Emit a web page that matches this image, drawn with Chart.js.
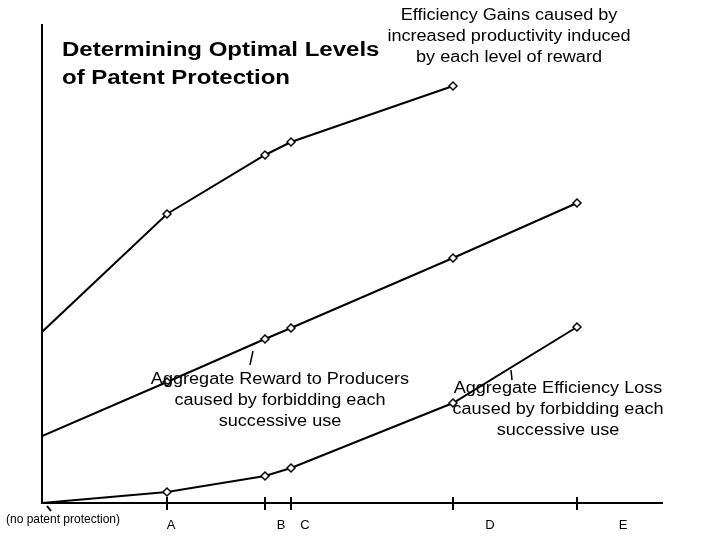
<!DOCTYPE html>
<html>
<head>
<meta charset="utf-8">
<script src="https://cdn.jsdelivr.net/npm/chart.js@4"></script>
<style>
  html, body { margin: 0; padding: 0; background: #fff; }
  #wrap { width: 720px; height: 540px; }
</style>
</head>
<body>
<div id="wrap"><canvas id="c" width="720" height="540"></canvas></div>
<script>
// levels of reward along the x axis (0 = no patent protection)
const levels = [0, 125, 223, 249, 411, 535];
const levelNames = ['', 'A', 'B', 'C', 'D', 'E'];
// where each letter sits (letters are set a bit right of their ticks)
const levelLabelX = [null, 129, 239, 263, 448, 581];

const gains = [171, 289, 348, 361, 417];          // Efficiency Gains
const reward = [67, 121, 164, 175, 245, 300];     // Aggregate Reward to Producers
const loss = [0, 11, 27, 35, 100, 176];           // Aggregate Efficiency Loss

const xMax = 621, yMax = 479;

const toPts = vals => vals.map((v, i) => ({ x: levels[i], y: v }));
const FONT = '"Liberation Sans", Arial, sans-serif';

function lineSet(label, vals) {
  return {
    label: label,
    data: toPts(vals),
    borderColor: '#000',
    borderWidth: 2,
    pointStyle: 'rectRot',
    pointRadius: vals.map((v, i) => i === 0 ? 0 : 4),
    pointBackgroundColor: '#fff',
    pointBorderColor: '#000',
    pointBorderWidth: 1.5,
    tension: 0,
    fill: false
  };
}

// the original lettering is a little wider than Arial at the same height
function wideText(ctx, t, x, y, sx) {
  ctx.save();
  ctx.translate(x, y);
  ctx.scale(sx, 1);
  ctx.fillText(t, 0, 0);
  ctx.restore();
}

const decor = {
  id: 'decor',
  afterDraw(chart) {
    const ctx = chart.ctx;
    const xs = chart.scales.x, ys = chart.scales.y;
    const x0 = xs.getPixelForValue(0), y0 = ys.getPixelForValue(0);
    ctx.save();
    ctx.strokeStyle = '#000';
    ctx.fillStyle = '#000';
    ctx.lineWidth = 2;

    // axes
    ctx.beginPath();
    ctx.moveTo(x0, ys.getPixelForValue(yMax));
    ctx.lineTo(x0, y0);
    ctx.lineTo(xs.getPixelForValue(xMax), y0);
    ctx.stroke();

    // ticks on x axis
    levels.forEach((v, i) => {
      if (i === 0) return;
      const px = xs.getPixelForValue(v);
      ctx.beginPath();
      ctx.moveTo(px, y0 - 6);
      ctx.lineTo(px, y0 + 7);
      ctx.stroke();
    });
    // little mark at origin
    ctx.beginPath();
    ctx.moveTo(x0 + 5, y0 + 3);
    ctx.lineTo(x0 + 9, y0 + 8);
    ctx.stroke();

    // tick letters
    ctx.font = '13px ' + FONT;
    ctx.textAlign = 'center';
    ctx.textBaseline = 'middle';
    levelNames.forEach((n, i) => {
      if (!n) return;
      ctx.fillText(n, xs.getPixelForValue(levelLabelX[i]), 525);
    });
    ctx.font = '12px ' + FONT;
    ctx.fillText('(no patent protection)', 63, 520);

    // title
    ctx.font = 'bold 20px ' + FONT;
    ctx.textAlign = 'left';
    ctx.textBaseline = 'alphabetic';
    wideText(ctx, 'Determining Optimal Levels', 62, 56, 1.2);
    wideText(ctx, 'of Patent Protection', 62, 84, 1.2);

    // series notes
    ctx.font = '16px ' + FONT;
    ctx.textAlign = 'center';
    ['Efficiency Gains caused by', 'increased productivity induced', 'by each level of reward']
      .forEach((t, i) => wideText(ctx, t, 509, 20 + i * 21, 1.13));
    ['Aggregate Reward to Producers', 'caused by forbidding each', 'successive use']
      .forEach((t, i) => wideText(ctx, t, 280, 384 + i * 21, 1.13));
    ['Aggregate Efficiency Loss', 'caused by forbidding each', 'successive use']
      .forEach((t, i) => wideText(ctx, t, 558, 393 + i * 21, 1.13));

    // leader strokes
    ctx.lineWidth = 1.5;
    ctx.beginPath();
    ctx.moveTo(253, 351);
    ctx.lineTo(250, 365);
    ctx.moveTo(511, 370);
    ctx.lineTo(512, 380);
    ctx.stroke();
    ctx.restore();
  }
};

new Chart(document.getElementById('c'), {
  type: 'line',
  data: {
    datasets: [
      lineSet('Efficiency Gains', gains),
      lineSet('Aggregate Reward', reward),
      lineSet('Aggregate Efficiency Loss', loss)
    ]
  },
  options: {
    responsive: false,
    animation: false,
    devicePixelRatio: 1,
    layout: { padding: { left: 42, right: 57, top: 24, bottom: 37 } },
    plugins: { legend: { display: false }, tooltip: { enabled: false } },
    scales: {
      x: { type: 'linear', min: 0, max: xMax, display: false },
      y: { type: 'linear', min: 0, max: yMax, display: false }
    }
  },
  plugins: [decor]
});
</script>
</body>
</html>
